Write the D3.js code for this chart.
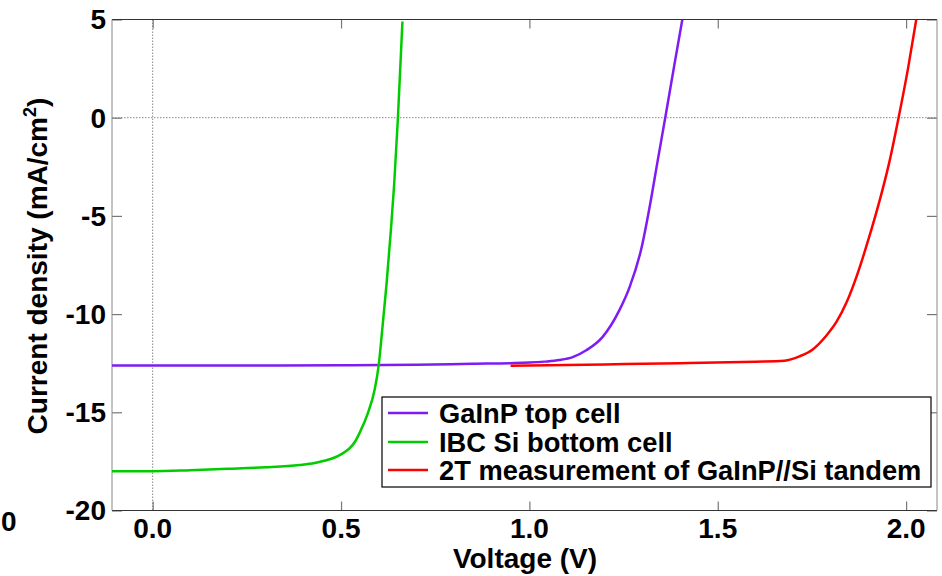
<!DOCTYPE html>
<html>
<head>
<meta charset="utf-8">
<script src="https://cdn.jsdelivr.net/npm/d3@7"></script>
<style>
  body { margin: 0; background: #fff; }
  svg text { font-family: "Liberation Sans", Arial, Helvetica, sans-serif; font-weight: bold; fill: #000; }
</style>
</head>
<body>
<div id="chart"></div>
<script>
// voltage (V) / current density (mA/cm2)
const topV = [-0.108, 0.0, 0.5, 0.7, 0.85, 0.95, 1.0, 1.04, 1.08, 1.115, 1.152, 1.194, 1.239, 1.266, 1.298, 1.319, 1.34, 1.362, 1.384, 1.406];
const topJ = [-12.62, -12.62, -12.6, -12.58, -12.53, -12.5, -12.47, -12.42, -12.34, -12.19, -11.83, -11.17, -9.8, -8.63, -6.6, -4.56, -2.25, 0.15, 2.6, 5.0];

const botV = [-0.108, 0.0, 0.1, 0.2, 0.3, 0.39, 0.43, 0.455, 0.478, 0.5, 0.523, 0.537, 0.549, 0.571, 0.589, 0.6, 0.61, 0.621, 0.632, 0.641, 0.651, 0.663];
const botJ = [-18.0, -18.0, -17.95, -17.88, -17.8, -17.68, -17.58, -17.47, -17.34, -17.14, -16.83, -16.5, -16.06, -15.05, -13.87, -12.6, -10.66, -8.42, -5.8, -3.4, 0, 4.9];

const tandemV = [0.95, 1.2, 1.4, 1.6, 1.677, 1.717, 1.752, 1.788, 1.815, 1.842, 1.87, 1.9, 1.93, 1.955, 1.98, 2.005, 2.027];
const tandemJ = [-12.63, -12.56, -12.5, -12.42, -12.37, -12.15, -11.8, -11.1, -10.4, -9.4, -8.0, -6.2, -4.2, -2.3, 0, 2.5, 5.0];

const xTicks = [0.0, 0.5, 1.0, 1.5, 2.0];
const yTicks = [5, 0, -5, -10, -15, -20];
const seriesNames = ['GaInP top cell', 'IBC Si bottom cell', '2T measurement of GaInP//Si tandem'];
const seriesColors = ['#7f1cf5', '#00cc00', '#ff0000'];

const W = 942, H = 576;
const plot = { left: 112, right: 937, top: 19.5, bottom: 510.5 };

const svg = d3.select('#chart').append('svg').attr('width', W).attr('height', H);

const x = d3.scaleLinear().domain([-0.108, 2.082]).range([plot.left, plot.right]);
const y = d3.scaleLinear().domain([-20, 5]).range([plot.bottom, plot.top]);

svg.append('defs').append('clipPath').attr('id', 'clip')
  .append('rect').attr('x', plot.left).attr('y', plot.top)
  .attr('width', plot.right - plot.left).attr('height', plot.bottom - plot.top);

// dotted zero lines
svg.append('line').attr('x1', x(0)).attr('x2', x(0)).attr('y1', plot.top).attr('y2', plot.bottom)
  .attr('stroke', '#888').attr('stroke-width', 1).attr('stroke-dasharray', '1.5,1.5');
svg.append('line').attr('x1', plot.left).attr('x2', plot.right).attr('y1', y(0)).attr('y2', y(0))
  .attr('stroke', '#888').attr('stroke-width', 1).attr('stroke-dasharray', '1.5,1.5');

// axes with inward ticks
const fmtX = d3.format('.1f');
const gb = svg.append('g').attr('transform', `translate(0,${plot.bottom})`)
  .call(d3.axisTop(x).tickValues(xTicks).tickSize(9).tickFormat(''));
const gt = svg.append('g').attr('transform', `translate(0,${plot.top})`)
  .call(d3.axisBottom(x).tickValues(xTicks).tickSize(9).tickFormat(''));
const gl = svg.append('g').attr('transform', `translate(${plot.left},0)`)
  .call(d3.axisRight(y).tickValues(yTicks).tickSize(10).tickFormat(''));
const gr = svg.append('g').attr('transform', `translate(${plot.right},0)`)
  .call(d3.axisLeft(y).tickValues(yTicks).tickSize(10).tickFormat(''));
[gb, gt, gl, gr].forEach(g => {
  g.select('.domain').remove();
  g.selectAll('.tick line').attr('stroke', '#777').attr('stroke-width', 1.2);
});

// frame
svg.append('line').attr('x1', plot.left).attr('x2', plot.right).attr('y1', plot.top).attr('y2', plot.top).attr('stroke', '#333');
svg.append('line').attr('x1', plot.left).attr('x2', plot.right).attr('y1', plot.bottom).attr('y2', plot.bottom).attr('stroke', '#333');
svg.append('line').attr('x1', plot.left).attr('x2', plot.left).attr('y1', plot.top).attr('y2', plot.bottom).attr('stroke', '#888');
svg.append('line').attr('x1', plot.right).attr('x2', plot.right).attr('y1', plot.top).attr('y2', plot.bottom).attr('stroke', '#888');

// tick labels
svg.selectAll('.xlab').data(xTicks).enter().append('text')
  .attr('x', d => x(d)).attr('y', 538).attr('text-anchor', 'middle')
  .attr('font-size', '28px').text(d => fmtX(d));
svg.selectAll('.ylab').data(yTicks).enter().append('text')
  .attr('x', 106).attr('y', d => y(d)).attr('dy', '0.35em').attr('text-anchor', 'end')
  .attr('font-size', '28px').text(d => d);
// stray label at the left edge
svg.append('text').attr('x', 1).attr('y', 531).attr('font-size', '28px').text('0');

// axis titles
svg.append('text').attr('x', 525).attr('y', 568).attr('text-anchor', 'middle')
  .attr('font-size', '28px').text('Voltage (V)');
const yt = svg.append('text').attr('transform', 'translate(47,266) rotate(-90)')
  .attr('text-anchor', 'middle').attr('font-size', '28px');
yt.append('tspan').text('Current density (mA/cm');
yt.append('tspan').attr('font-size', '18px').attr('dy', '-11').text('2');
yt.append('tspan').attr('dy', '11').text(')');

// curves
const series = [
  topV.map((v, i) => [v, topJ[i]]),
  botV.map((v, i) => [v, botJ[i]]),
  tandemV.map((v, i) => [v, tandemJ[i]]),
];
const line = d3.line().x(d => x(d[0])).y(d => y(d[1])).curve(d3.curveMonotoneX);
svg.append('g').attr('clip-path', 'url(#clip)').selectAll('path').data(series).enter().append('path')
  .attr('d', line).attr('fill', 'none')
  .attr('stroke', (_, i) => seriesColors[i]).attr('stroke-width', 2.5);

// legend
const lg = svg.append('g');
lg.append('rect').attr('x', 382).attr('y', 397).attr('width', 549).attr('height', 90)
  .attr('fill', '#fff').attr('stroke', '#000').attr('stroke-width', 1.2);
const rowY = [413, 442, 470];
seriesNames.forEach((name, i) => {
  lg.append('line').attr('x1', 388).attr('x2', 428).attr('y1', rowY[i]).attr('y2', rowY[i])
    .attr('stroke', seriesColors[i]).attr('stroke-width', 2.5);
  lg.append('text').attr('x', 439).attr('y', rowY[i]).attr('dy', '0.35em')
    .attr('font-size', '27.3px').text(name);
});
</script>
</body>
</html>
